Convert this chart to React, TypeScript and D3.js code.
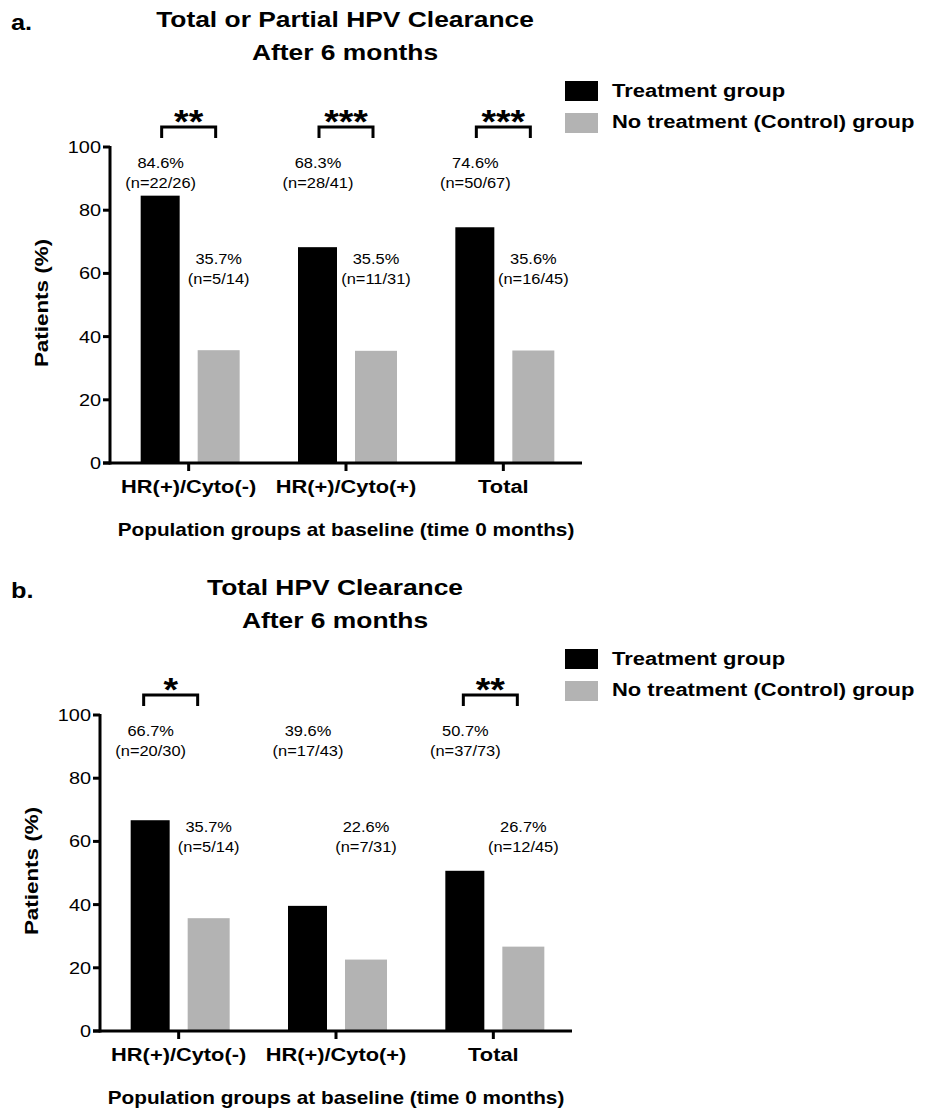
import React from "react";
import * as d3 from "d3";

// ---------- data ----------
const categories = ["HR(+)/Cyto(-)", "HR(+)/Cyto(+)", "Total"];
const seriesNames = ["Treatment group", "No treatment (Control) group"];
const yTicks = [0, 20, 40, 60, 80, 100];

const panelATitle = ["Total or Partial HPV Clearance", "After 6 months"];
const panelATreatment = [84.6, 68.3, 74.6];
const panelAControl = [35.7, 35.5, 35.6];
const panelATreatmentN = ["n=22/26", "n=28/41", "n=50/67"];
const panelAControlN = ["n=5/14", "n=11/31", "n=16/45"];
const panelASig = ["**", "***", "***"];

const panelBTitle = ["Total HPV Clearance", "After 6 months"];
const panelBTreatment = [66.7, 39.6, 50.7];
const panelBControl = [35.7, 22.6, 26.7];
const panelBTreatmentN = ["n=20/30", "n=17/43", "n=37/73"];
const panelBControlN = ["n=5/14", "n=7/31", "n=12/45"];
const panelBSig = ["*", "", "**"];

const xTitle = "Population groups at baseline (time 0 months)";
const yTitle = "Patients (%)";

// ---------- style ----------
const FONT = "'Liberation Sans', Arial, Helvetica, sans-serif";
const BLACK = "#000000";
const GRAY = "#b3b3b3";

type TProps = {
  x: number; y: number; size: number; sx?: number; weight?: string | number;
  anchor?: "start" | "middle" | "end"; rotate?: number; fill?: string; children: React.ReactNode;
};
function T({ x, y, size, sx = 1, weight = "normal", anchor = "middle", rotate = 0, fill = "#000", children }: TProps) {
  return (
    <text
      transform={`translate(${x},${y}) rotate(${rotate}) scale(${sx},1)`}
      fontFamily={FONT}
      fontSize={size}
      fontWeight={weight}
      textAnchor={anchor}
      fill={fill}
    >
      {children}
    </text>
  );
}

type PanelProps = {
  ox: number; oy: number; letter: string; title: string[];
  treat: number[]; ctrl: number[]; treatN: string[]; ctrlN: string[]; sig: string[];
  sigDx: number[];
};

function Panel({ ox, oy, letter, title, treat, ctrl, treatN, ctrlN, sig, sigDx }: PanelProps) {
  const axisX = 110 + ox;
  const y = d3.scaleLinear().domain([0, 100]).range([463 + oy, 147 + oy]);
  const x = d3.scaleBand<string>().domain(categories).range([axisX, 582 + ox]).padding(0);
  const c = (cat: string) => (x(cat) as number) + x.bandwidth() / 2;
  const y0 = y(0);

  return (
    <g>
      {/* panel letter and title */}
      <T x={11} y={30 + oy} size={22} sx={1.15} weight="bold" anchor="start">{letter}</T>
      <T x={345 + ox} y={27 + oy} size={22} sx={1.2} weight="bold">{title[0]}</T>
      <T x={345 + ox} y={60 + oy} size={22} sx={1.2} weight="bold">{title[1]}</T>

      {/* legend */}
      {seriesNames.map((s, i) => (
        <g key={s}>
          <rect x={565} y={81 + oy + i * 32} width={33} height={20} fill={i === 0 ? BLACK : GRAY} />
          <T x={612} y={97 + oy + i * 31} size={18.3} sx={1.2} weight="bold" anchor="start">{s}</T>
        </g>
      ))}

      {/* bars */}
      {categories.map((cat, i) => (
        <g key={cat}>
          <rect x={c(cat) - 48} y={y(treat[i])} width={39} height={y0 - y(treat[i])} fill={BLACK} />
          <rect x={c(cat) + 9} y={y(ctrl[i])} width={42} height={y0 - y(ctrl[i])} fill={GRAY} />
        </g>
      ))}

      {/* value labels */}
      {categories.map((cat, i) => (
        <g key={"lbl" + cat}>
          <T x={c(cat) - 28} y={168 + oy} size={15.5} sx={1.06}>{treat[i].toFixed(1) + "%"}</T>
          <T x={c(cat) - 28} y={188 + oy} size={15.5} sx={1.06}>{"(" + treatN[i] + ")"}</T>
          <T x={c(cat) + 30} y={264 + oy} size={15.5} sx={1.06}>{ctrl[i].toFixed(1) + "%"}</T>
          <T x={c(cat) + 30} y={284 + oy} size={15.5} sx={1.06}>{"(" + ctrlN[i] + ")"}</T>
        </g>
      ))}

      {/* significance brackets */}
      {categories.map((cat, i) =>
        sig[i] ? (
          <g key={"sig" + cat}>
            <path
              d={`M${c(cat) + sigDx[i] - 27},${138 + oy}V${127 + oy}H${c(cat) + sigDx[i] + 27}V${138 + oy}`}
              fill="none" stroke="#000" strokeWidth={3}
            />
            <T x={c(cat) + sigDx[i]} y={133 + oy} size={34} sx={1.1} weight="bold">{sig[i]}</T>
          </g>
        ) : null
      )}

      {/* y axis */}
      <line x1={axisX} x2={axisX} y1={y(100) - 1} y2={y0 + 1.5} stroke="#000" strokeWidth={3} />
      {yTicks.map((t) => (
        <g key={"yt" + t}>
          <line x1={axisX - 7} x2={axisX} y1={y(t)} y2={y(t)} stroke="#000" strokeWidth={3} />
          <T x={axisX - 9} y={y(t) + 6} size={17} sx={1.17} anchor="end">{String(t)}</T>
        </g>
      ))}

      {/* x axis */}
      <line x1={axisX - 7} x2={582 + ox} y1={y0} y2={y0} stroke="#000" strokeWidth={3} />
      {categories.map((cat) => (
        <g key={"xt" + cat}>
          <line x1={c(cat)} x2={c(cat)} y1={y0} y2={y0 + 8} stroke="#000" strokeWidth={3} />
          <T x={c(cat)} y={y0 + 30} size={18.5} sx={1.18} weight="bold">{cat}</T>
        </g>
      ))}

      {/* axis titles */}
      <T x={346 + ox} y={536 + oy} size={17.6} sx={1.18} weight="bold">{xTitle}</T>
      <T x={48 + ox} y={303 + oy} size={19} sx={1.18} weight="bold" rotate={-90}>{yTitle}</T>
    </g>
  );
}

export default function App() {
  return (
    <svg
      width={929}
      height={1113}
      viewBox="0 0 929 1113"
      style={{ position: "absolute", left: 0, top: 0, background: "#fff" }}
    >
      <rect x={0} y={0} width={929} height={1113} fill="#fff" />
      <Panel
        ox={0} oy={0} letter="a." title={panelATitle}
        treat={panelATreatment} ctrl={panelAControl}
        treatN={panelATreatmentN} ctrlN={panelAControlN}
        sig={panelASig} sigDx={[0, 0, 0]}
      />
      <Panel
        ox={-10} oy={568} letter="b." title={panelBTitle}
        treat={panelBTreatment} ctrl={panelBControl}
        treatN={panelBTreatmentN} ctrlN={panelBControlN}
        sig={panelBSig} sigDx={[-8, 0, -3]}
      />
    </svg>
  );
}
